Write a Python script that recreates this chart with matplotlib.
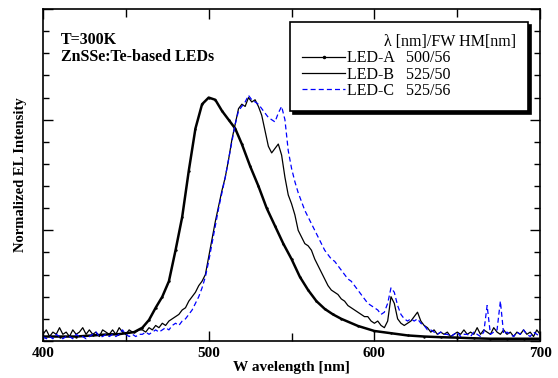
import numpy as np
import matplotlib
matplotlib.use("Agg")
import matplotlib.pyplot as plt
from matplotlib.lines import Line2D
from matplotlib.ticker import MultipleLocator

plt.rcParams['font.family'] = ['Liberation Serif', 'DejaVu Serif']

# LED-A: smooth spectrum, peak 500 nm
wl_a = [400, 410, 420, 430, 440, 445, 450, 455, 460, 464, 468, 472, 476, 480,
        484, 488, 492, 496, 500, 504, 508, 512, 516, 520, 525, 530, 535, 540,
        545, 550, 555, 560, 565, 570, 575, 580, 590, 600, 610, 620, 630, 640,
        650, 660, 670, 680, 690, 700]
int_a = [0.02, 0.02, 0.02, 0.025, 0.03, 0.03, 0.035, 0.04, 0.06, 0.095, 0.15,
         0.20, 0.27, 0.41, 0.56, 0.77, 0.96, 1.07, 1.10, 1.09, 1.04, 1.00,
         0.96, 0.89, 0.79, 0.70, 0.60, 0.52, 0.44, 0.37, 0.29, 0.23, 0.18,
         0.145, 0.12, 0.10, 0.068, 0.045, 0.035, 0.025, 0.02, 0.017, 0.015,
         0.012, 0.01, 0.01, 0.01, 0.01]

# LED-B and LED-C: noisy spectra, sampled every 2 nm from 400 to 700
wl_bc = np.arange(400, 701, 2)
int_b = [0.03, 0.05, 0.02, 0.04, 0.03, 0.06, 0.03, 0.04, 0.02, 0.05,
         0.03, 0.04, 0.06, 0.03, 0.05, 0.03, 0.04, 0.02, 0.05, 0.04,
         0.03, 0.05, 0.03, 0.06, 0.04, 0.03, 0.05, 0.04, 0.04, 0.05,
         0.05, 0.04, 0.06, 0.05, 0.07, 0.06, 0.08, 0.07, 0.09, 0.10,
         0.11, 0.12, 0.14, 0.15, 0.18, 0.20, 0.22, 0.25, 0.27, 0.30,
         0.38, 0.46, 0.54, 0.61, 0.68, 0.74, 0.82, 0.91, 0.98, 1.05,
         1.07, 1.06, 1.10, 1.08, 1.09, 1.06, 1.02, 0.95, 0.88, 0.85,
         0.87, 0.89, 0.84, 0.74, 0.66, 0.62, 0.57, 0.50, 0.47, 0.44,
         0.43, 0.41, 0.37, 0.34, 0.31, 0.28, 0.25, 0.23, 0.22, 0.21,
         0.19, 0.18, 0.16, 0.15, 0.14, 0.13, 0.12, 0.11, 0.11, 0.09,
         0.08, 0.09, 0.07, 0.06, 0.09, 0.20, 0.17, 0.10, 0.08, 0.07,
         0.08, 0.09, 0.11, 0.13, 0.09, 0.07, 0.06, 0.04, 0.05, 0.03,
         0.04, 0.03, 0.04, 0.02, 0.03, 0.04, 0.03, 0.05, 0.03, 0.04,
         0.03, 0.06, 0.03, 0.05, 0.04, 0.03, 0.06, 0.04, 0.03, 0.05,
         0.03, 0.04, 0.02, 0.04, 0.03, 0.05, 0.03, 0.04, 0.02, 0.05,
         0.03]
int_c = [0.02, 0.01, 0.02, 0.01, 0.03, 0.02, 0.01, 0.02, 0.02, 0.01,
         0.03, 0.02, 0.02, 0.01, 0.02, 0.03, 0.04, 0.02, 0.02, 0.03,
         0.02, 0.03, 0.02, 0.03, 0.05, 0.03, 0.02, 0.03, 0.02, 0.03,
         0.03, 0.04, 0.03, 0.04, 0.05, 0.04, 0.05, 0.06, 0.05, 0.07,
         0.08, 0.07, 0.09, 0.10, 0.12, 0.14, 0.17, 0.20, 0.24, 0.29,
         0.36, 0.44, 0.52, 0.60, 0.67, 0.74, 0.82, 0.90, 0.98, 1.04,
         1.06, 1.08, 1.11, 1.09, 1.08, 1.07, 1.05, 1.03, 1.01, 1.00,
         0.99, 1.03, 1.06, 1.00, 0.86, 0.78, 0.72, 0.67, 0.63, 0.59,
         0.56, 0.53, 0.50, 0.47, 0.44, 0.41, 0.39, 0.37, 0.36, 0.34,
         0.32, 0.30, 0.28, 0.27, 0.25, 0.23, 0.21, 0.19, 0.17, 0.16,
         0.15, 0.14, 0.12, 0.13, 0.17, 0.24, 0.22, 0.16, 0.12, 0.10,
         0.09, 0.10, 0.09, 0.10, 0.08, 0.07, 0.05, 0.05, 0.04, 0.03,
         0.04, 0.03, 0.03, 0.02, 0.03, 0.04, 0.02, 0.03, 0.03, 0.02,
         0.04, 0.03, 0.02, 0.04, 0.16, 0.03, 0.04, 0.05, 0.18, 0.03,
         0.04, 0.03, 0.02, 0.04, 0.03, 0.05, 0.03, 0.02, 0.04, 0.03,
         0.02]

labels = ["LED-A   500/56", "LED-B   525/50", "LED-C   525/56"]

fig = plt.figure(figsize=(5.58, 3.78), dpi=100)
ax = fig.add_axes([0.077, 0.098, 0.891, 0.878])

ax.plot(wl_a, int_a, color='black', lw=1.8, marker='.', markersize=1.5)
ax.plot(wl_bc, int_b, color='black', lw=0.9)
ax.plot(wl_bc, int_c, color='blue', lw=0.9, ls=(0, (4, 2.5)))

ax.set_xlim(400, 700)
ax.set_ylim(0, 1.5)
ax.xaxis.set_major_locator(MultipleLocator(100))
ax.xaxis.set_minor_locator(MultipleLocator(50))
ax.yaxis.set_major_locator(MultipleLocator(0.5))
ax.yaxis.set_minor_locator(MultipleLocator(0.1))
ax.tick_params(which='both', direction='in', top=True, right=True, width=1)
ax.tick_params(which='major', length=7)
ax.tick_params(which='minor', length=4)
ax.tick_params(axis='x', which='minor', length=6)
ax.tick_params(axis='y', labelleft=False)
ax.tick_params(axis='x', labelsize=11, pad=4)
for t in ax.get_xticklabels():
    t.set_fontweight('bold')
for s in ax.spines.values():
    s.set_linewidth(1.2)

ax.set_xlabel("W avelength [nm]", fontsize=11, fontweight='bold', labelpad=1)
ax.set_ylabel("Normalized EL Intensity", fontsize=10.5, fontweight='bold', labelpad=8)

ax.text(0.036, 0.906, "T=300K", transform=ax.transAxes, fontsize=11.5,
        fontweight='bold', va='center')
ax.text(0.036, 0.855, "ZnSSe:Te-based LEDs", transform=ax.transAxes, fontsize=11.5,
        fontweight='bold', va='center')

# legend handles (LED-A shown as a thin line with a dot, as in the original)
handles = [
    Line2D([], [], color='black', lw=0.9, marker='.', markersize=3),
    Line2D([], [], color='black', lw=0.9),
    Line2D([], [], color='blue', lw=0.9, ls=(0, (4, 2.5))),
]
leg = ax.legend(handles, labels, title="λ [nm]/FW HM[nm]", loc='upper left',
                bbox_to_anchor=(0.497, 0.702, 0.479, 0.259), mode='expand',
                fontsize=11.5, title_fontsize=11.5,
                frameon=True, fancybox=False, shadow={'color': 'black', 'alpha': 1},
                edgecolor='black', handlelength=2.7, handletextpad=0.1,
                labelspacing=0.02, borderpad=0.75, borderaxespad=0,
                alignment='right')
leg.get_frame().set_linewidth(1.2)

fig.savefig("out.png", dpi=100)
